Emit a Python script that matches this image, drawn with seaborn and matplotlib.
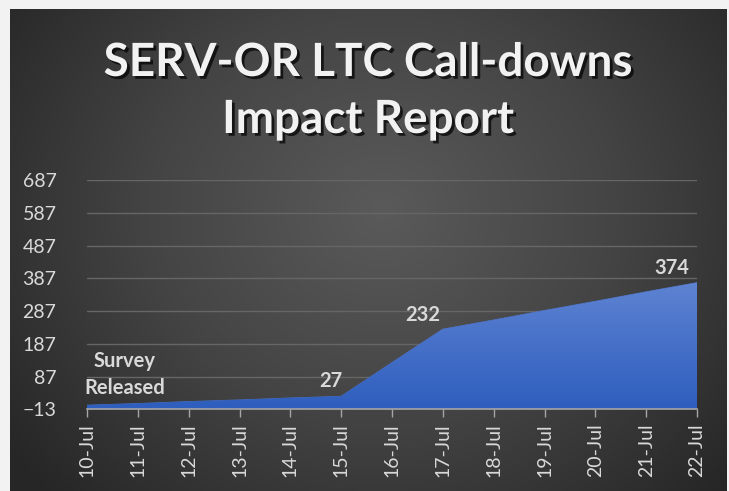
"""SERV-OR LTC call-downs, area chart"""
import numpy as np
import pandas as pd
import matplotlib.pyplot as plt
import matplotlib.patheffects as pe
from matplotlib.colors import LinearSegmentedColormap
import seaborn as sns

# données
days = ["10-Jul", "11-Jul", "12-Jul", "13-Jul", "14-Jul", "15-Jul", "16-Jul",
        "17-Jul", "18-Jul", "19-Jul", "20-Jul", "21-Jul", "22-Jul"]
calls = [0, 5, 11, 16, 22, 27, 130, 232, 260, 289, 317, 346, 374]
labels = {0: "Survey\nReleased", 5: "27", 7: "232", 12: "374"}
y_ticks = [-13, 87, 187, 287, 387, 487, 587, 687]

TXT = "#d9d9d9"

sns.set_theme(style="dark")
plt.rcParams["font.family"] = ["Lato", "DejaVu Sans"]

fig = plt.figure(figsize=(7.29, 4.91), dpi=100)
fig.patch.set_facecolor("#f2f2f2")

# fond dégradé radial
bg = fig.add_axes([10 / 729, 0, 717 / 729, 482 / 491])
yy, xx = np.mgrid[0:1:300j, 0:1:400j]
r = np.sqrt(((xx - 0.52) * 1.3) ** 2 + (yy - 0.42) ** 2)
bg_cmap = LinearSegmentedColormap.from_list("bg", ["#5a5a5a", "#444444", "#262626"])
bg.imshow(np.clip(r / 0.85, 0, 1), cmap=bg_cmap, aspect="auto", extent=[0, 1, 1, 0])
bg.set_axis_off()

ax = fig.add_axes([87 / 729, 1 - 409.4 / 491, 610 / 729, (409.4 - 180) / 491])
ax.patch.set_alpha(0)

df = pd.DataFrame({"x": range(len(days)), "calls": calls})
sns.lineplot(data=df, x="x", y="calls", ax=ax, color="#4a72c8", linewidth=0.6)

# remplissage dégradé bleu
poly = ax.fill_between(df["x"], -13, df["calls"], color="none")
grad = np.linspace(0, 1, 256).reshape(-1, 1)
area_cmap = LinearSegmentedColormap.from_list("area", ["#5e83d2", "#2e5ebe"])
img = ax.imshow(grad, cmap=area_cmap, aspect="auto",
                extent=[0, len(days) - 1, -13, max(calls)], zorder=2)
img.set_clip_path(poly.get_paths()[0], transform=ax.transData)

ax.set_xlim(0, len(days) - 1)
ax.set_ylim(-13, 687)
ax.set_yticks(y_ticks)
ax.set_xticks(range(len(days)))
ax.set_xticklabels(days, rotation=90)
ax.set_xlabel("")
ax.set_ylabel("")
ax.grid(axis="y", color="#666666", linewidth=1)
ax.grid(axis="x", visible=False)
for side in ["top", "right", "left"]:
    ax.spines[side].set_visible(False)
ax.spines["bottom"].set_color("#a6a6a6")
ax.spines["bottom"].set_linewidth(1.2)
ax.spines["bottom"].set_zorder(5)
ax.tick_params(axis="x", colors="#a6a6a6", length=6, width=1, direction="out",
               bottom=True, labelcolor=TXT, labelsize=14, pad=4)
ax.tick_params(axis="y", length=0, labelcolor=TXT, labelsize=14, pad=22)

offsets = {0: (38, 31), 5: (-10, 15), 7: (-20, 14), 12: (-25, 15)}
for i, txt in labels.items():
    ax.annotate(txt, (i, calls[i]), xytext=offsets[i], textcoords="offset pixels",
                ha="center", va="center", color=TXT, fontsize=14.5,
                fontweight="bold", linespacing=1.45, annotation_clip=False)

shadow = [pe.withSimplePatchShadow(offset=(2, -2), shadow_rgbFace="black", alpha=0.7)]
fig.text(0.505, 1 - 63 / 491, "SERV-OR LTC Call-downs", ha="center", va="center",
         color="#f2f2f2", fontsize=33, fontweight="bold", path_effects=shadow)
fig.text(0.505, 1 - 120 / 491, "Impact Report", ha="center", va="center",
         color="#f2f2f2", fontsize=33, fontweight="bold", path_effects=shadow)

fig.savefig("out.png", dpi=100, facecolor=fig.get_facecolor())
